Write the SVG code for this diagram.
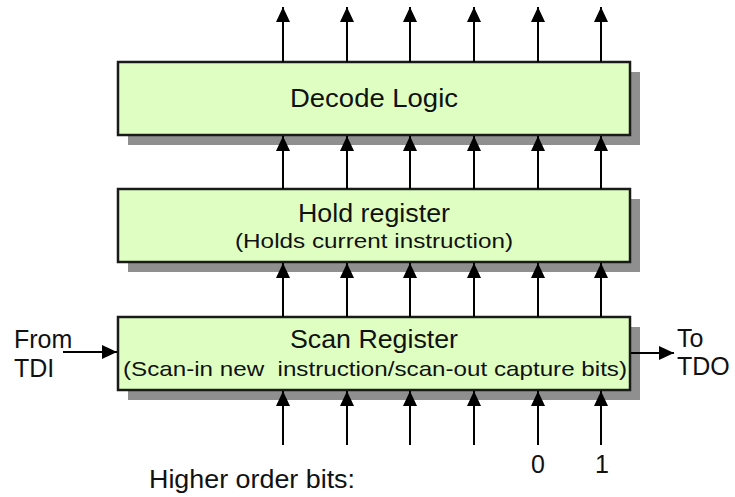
<svg xmlns="http://www.w3.org/2000/svg" width="735" height="497" viewBox="0 0 735 497">
  <defs>
    <marker id="arrow" markerUnits="userSpaceOnUse" markerWidth="16" markerHeight="16" viewBox="0 0 16 16" refX="15" refY="8" orient="auto">
      <path d="M0,1 L15,8 L0,15 Z" fill="#000"/>
    </marker>
  </defs>
  <style>
    .box { fill: #dfffc2; stroke: #1a1a1a; stroke-width: 2.5; }
    .shadow { fill: #8f8f8f; }
    .wire { stroke: #000; stroke-width: 2; fill: none; marker-end: url(#arrow); }
    text { font-family: "Liberation Sans", Arial, sans-serif; fill: #111; }
    .title { font-size: 25px; text-anchor: middle; }
    .sub { font-size: 21px; text-anchor: middle; }
    .lbl { font-size: 25px; }
  </style>

  <rect width="735" height="497" fill="#fff"/>

  <g id="decode-logic">
    <rect class="shadow" x="128" y="72" width="512" height="73"/>
    <rect class="box" x="118" y="62" width="512" height="73"/>
    <text class="title" x="374" y="107" textLength="168" lengthAdjust="spacingAndGlyphs">Decode Logic</text>
  </g>

  <g id="hold-register">
    <rect class="shadow" x="128" y="199" width="512" height="73"/>
    <rect class="box" x="118" y="189" width="512" height="73"/>
    <text class="title" x="374" y="222" textLength="152" lengthAdjust="spacingAndGlyphs">Hold register</text>
    <text class="sub" x="374" y="248" textLength="278" lengthAdjust="spacingAndGlyphs">(Holds current instruction)</text>
  </g>

  <g id="scan-register">
    <rect class="shadow" x="128" y="327" width="512" height="73"/>
    <rect class="box" x="118" y="317" width="512" height="73"/>
    <text class="title" x="374" y="348" textLength="168" lengthAdjust="spacingAndGlyphs">Scan Register</text>
    <text class="sub" x="375" y="376" textLength="504" lengthAdjust="spacingAndGlyphs" xml:space="preserve">(Scan-in new  instruction/scan-out capture bits)</text>
  </g>

  <g id="connectors">
    <!-- decode outputs -->
    <path class="wire" d="M283,62 V7"/>
    <path class="wire" d="M347,62 V7"/>
    <path class="wire" d="M410,62 V7"/>
    <path class="wire" d="M474,62 V7"/>
    <path class="wire" d="M538,62 V7"/>
    <path class="wire" d="M601,62 V7"/>
    <!-- hold to decode -->
    <path class="wire" d="M283,189 V136"/>
    <path class="wire" d="M347,189 V136"/>
    <path class="wire" d="M410,189 V136"/>
    <path class="wire" d="M474,189 V136"/>
    <path class="wire" d="M538,189 V136"/>
    <path class="wire" d="M601,189 V136"/>
    <!-- scan to hold -->
    <path class="wire" d="M283,317 V263"/>
    <path class="wire" d="M347,317 V263"/>
    <path class="wire" d="M410,317 V263"/>
    <path class="wire" d="M474,317 V263"/>
    <path class="wire" d="M538,317 V263"/>
    <path class="wire" d="M601,317 V263"/>
    <!-- capture inputs -->
    <path class="wire" d="M283,445 V391"/>
    <path class="wire" d="M347,445 V391"/>
    <path class="wire" d="M410,445 V391"/>
    <path class="wire" d="M474,445 V391"/>
    <path class="wire" d="M538,445 V391"/>
    <path class="wire" d="M601,445 V391"/>
    <!-- serial path -->
    <path class="wire" d="M63,352 H117"/>
    <path class="wire" d="M631,353 H674"/>
  </g>

  <g id="labels">
    <text class="lbl" x="14" y="348">From</text>
    <text class="lbl" x="14" y="377">TDI</text>
    <text class="lbl" x="677" y="347">To</text>
    <text class="lbl" x="677" y="375">TDO</text>
    <text class="lbl" x="538" y="473" text-anchor="middle">0</text>
    <text class="lbl" x="602" y="473" text-anchor="middle">1</text>
    <text class="lbl" x="149" y="488" textLength="206" lengthAdjust="spacingAndGlyphs">Higher order bits:</text>
  </g>
</svg>
